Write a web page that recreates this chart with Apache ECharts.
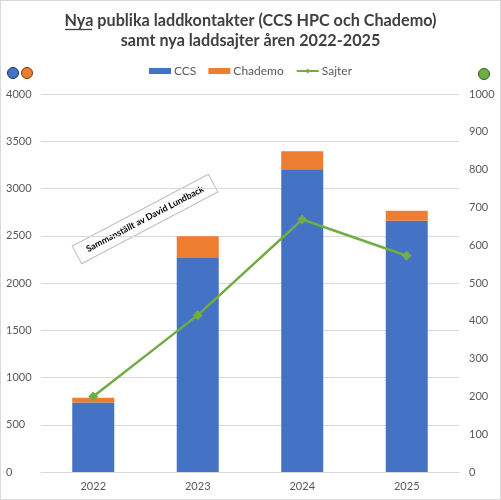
<!DOCTYPE html>
<html><head><meta charset="utf-8">
<script src="https://cdn.jsdelivr.net/npm/echarts@6/dist/echarts.min.js"></script>
<style>html,body{margin:0;padding:0;background:#fff}#c{width:501px;height:500px;box-sizing:border-box;border:1px solid #d9d9d9}</style>
</head><body><div id="c"></div>
<script>
const categories = ['2022','2023','2024','2025'];
const ccs = [735, 2265, 3205, 2660];
const chademo = [50, 230, 190, 105];
const sajter = [200, 415, 668, 572];
const leftTicks = {min:0, max:4000, interval:500};
const rightTicks = {min:0, max:1000, interval:100};

const chart = echarts.init(document.getElementById('c'), null, {renderer:'canvas'});
const ff = 'Lato, Noto Sans, sans-serif';
const plain = v => String(v);
chart.setOption({
  backgroundColor:'#fff',
  animation:false,
  title:{
    text:'Nya publika laddkontakter (CCS HPC och Chademo)\nsamt nya laddsajter åren 2022-2025',
    left:'center', top:5,
    textStyle:{fontFamily:ff, fontSize:16.2, fontWeight:'bold', color:'#404040', lineHeight:20}
  },
  legend:{
    top:59, left:'center', itemGap:12, itemWidth:22, itemHeight:6,
    textStyle:{fontFamily:ff, fontSize:12, color:'#595959', padding:[0,0,0,-2]},
    data:[{name:'CCS', icon:'rect'},{name:'Chademo', icon:'rect'},{name:'Sajter'}]
  },
  grid:{left:40, right:41, top:93, bottom:27},
  xAxis:{
    type:'category', data:categories,
    axisLine:{lineStyle:{color:'#d9d9d9'}}, axisTick:{show:false},
    axisLabel:{fontFamily:ff, fontSize:11, color:'#595959', margin:9}
  },
  yAxis:[
    {type:'value', min:leftTicks.min, max:leftTicks.max, interval:leftTicks.interval,
     axisLabel:{fontFamily:ff, fontSize:11, color:'#595959', align:'left', margin:35, formatter:plain},
     axisLine:{show:false}, axisTick:{show:false},
     splitLine:{lineStyle:{color:'#d9d9d9'}}},
    {type:'value', min:rightTicks.min, max:rightTicks.max, interval:rightTicks.interval,
     axisLabel:{fontFamily:ff, fontSize:11, color:'#595959', margin:10, formatter:plain},
     axisLine:{show:false}, axisTick:{show:false}, splitLine:{show:false}}
  ],
  series:[
    {name:'CCS', type:'bar', stack:'a', data:ccs, barWidth:42,
     itemStyle:{color:'#4472c4'}},
    {name:'Chademo', type:'bar', stack:'a', data:chademo, barWidth:42,
     itemStyle:{color:'#ed7d31'}},
    {name:'Sajter', type:'line', yAxisIndex:1, data:sajter,
     symbol:'diamond', symbolSize:10,
     lineStyle:{color:'#70ad47', width:2.5}, itemStyle:{color:'#70ad47'}}
  ],
  graphic:[
    {type:'line', shape:{x1:64,y1:28.5,x2:91,y2:28.5}, style:{stroke:'#404040', lineWidth:1.3}},
    {type:'circle', shape:{cx:12, cy:72, r:5.5}, style:{fill:'#4472c4', stroke:'#1f3763', lineWidth:1}},
    {type:'circle', shape:{cx:26, cy:72, r:5.5}, style:{fill:'#ed7d31', stroke:'#7a3a10', lineWidth:1}},
    {type:'circle', shape:{cx:483, cy:73, r:5.5}, style:{fill:'#70ad47', stroke:'#2f5a1c', lineWidth:1}},
    {type:'group', x:144, y:218, rotation:0.485, children:[
      {type:'rect', shape:{x:-77, y:-10, width:154, height:20},
       style:{fill:'#fff', stroke:'#bfbfbf', lineWidth:1}},
      {type:'text', style:{text:'Sammanställt av David Lundback', x:0, y:0,
        textAlign:'center', textVerticalAlign:'middle',
        font:'bold 9px Lato, sans-serif', fill:'#000'}}
    ]}
  ]
});
</script></body></html>
